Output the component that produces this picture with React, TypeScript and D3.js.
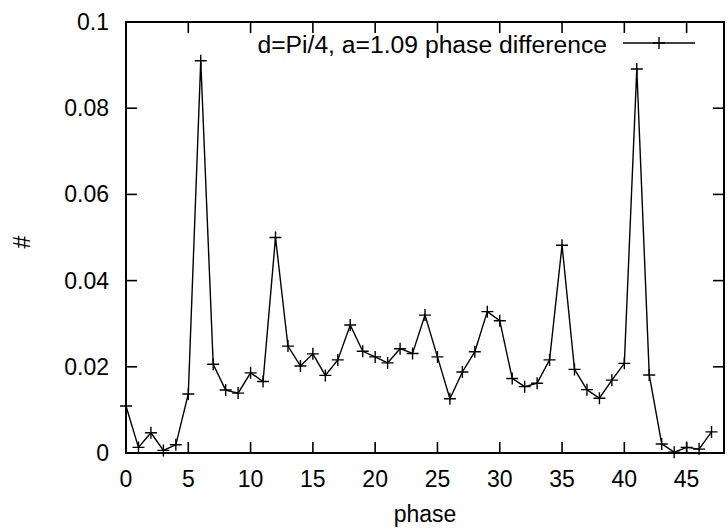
import React from 'react';
import * as d3 from 'd3';

// --- Data ---
const phases = d3.range(0, 48);
const counts = [
  0.0109, 0.0013, 0.0047, 0.0006, 0.0019, 0.0137, 0.091, 0.0206, 0.0146, 0.0139,
  0.0186, 0.0166, 0.050, 0.0248, 0.0202, 0.0230, 0.0180, 0.0216, 0.0297, 0.0236,
  0.0223, 0.0209, 0.0242, 0.0231, 0.0320, 0.0223, 0.0126, 0.0188, 0.0235, 0.0328,
  0.0307, 0.0173, 0.0154, 0.0162, 0.0216, 0.0482, 0.0194, 0.0147, 0.0127, 0.0169,
  0.0208, 0.0891, 0.0181, 0.0021, 0.0002, 0.0013, 0.0009, 0.0049,
];
const xTicks = [0, 5, 10, 15, 20, 25, 30, 35, 40, 45];
const yTicks = [0, 0.02, 0.04, 0.06, 0.08, 0.1];
const legendLabel = 'd=Pi/4, a=1.09 phase difference';

const W = 727;
const H = 529;
const margin = { top: 22, right: 3, bottom: 76, left: 126 };
const font = '"Liberation Sans", Arial, sans-serif';
const fs = 23;

const Plus = ({ x, y, r = 6 }: { x: number; y: number; r?: number }) => (
  <path d={`M${x - r},${y}H${x + r}M${x},${y - r}V${y + r}`} stroke="#000" strokeWidth={1.4} />
);

export default function App() {
  const x = d3.scaleLinear().domain([0, 48]).range([margin.left, W - margin.right]);
  const y = d3.scaleLinear().domain([0, 0.1]).range([H - margin.bottom, margin.top]);
  const line = d3.line<number>().x((_, i) => x(phases[i])).y(d => y(d));
  const tick = 11;
  const x0 = x.range()[0], x1 = x.range()[1];
  const y0 = y.range()[0], y1 = y.range()[1];

  return (
    <svg width={W} height={H} style={{ position: 'absolute', left: 0, top: 0, background: '#fff' }} fontFamily={font}>
      {/* ticks, mirrored on all sides */}
      {xTicks.map(t => (
        <g key={'x' + t}>
          <line x1={x(t)} x2={x(t)} y1={y0} y2={y0 - tick} stroke="#000" strokeWidth={1.6} />
          <line x1={x(t)} x2={x(t)} y1={y1} y2={y1 + tick} stroke="#000" strokeWidth={1.6} />
          <text x={x(t)} y={y0 + 34} fontSize={fs} textAnchor="middle">{t}</text>
        </g>
      ))}
      {yTicks.map(t => (
        <g key={'y' + t}>
          <line x1={x0} x2={x0 + tick} y1={y(t)} y2={y(t)} stroke="#000" strokeWidth={1.6} />
          <line x1={x1} x2={x1 - tick} y1={y(t)} y2={y(t)} stroke="#000" strokeWidth={1.6} />
          <text x={x0 - 17} y={y(t) + 8} fontSize={fs} textAnchor="end">{d3.format('~g')(t)}</text>
        </g>
      ))}
      <rect x={x0} y={y1} width={x1 - x0} height={y0 - y1} fill="none" stroke="#000" strokeWidth={2} />

      <path d={line(counts) ?? ''} fill="none" stroke="#000" strokeWidth={1.4} />
      {counts.map((c, i) => <Plus key={i} x={x(phases[i])} y={y(c)} />)}

      {/* legend */}
      <text x={607} y={53} fontSize={24.7} textAnchor="end">{legendLabel}</text>
      <line x1={623} x2={695} y1={43} y2={43} stroke="#000" strokeWidth={1.4} />
      <Plus x={659} y={43} />

      <text x={(x0 + x1) / 2} y={H - 7} fontSize={fs} textAnchor="middle">phase</text>
      <text x={0} y={0} fontSize={fs} textAnchor="middle" transform={`translate(30,242) rotate(-90)`}>#</text>
    </svg>
  );
}
